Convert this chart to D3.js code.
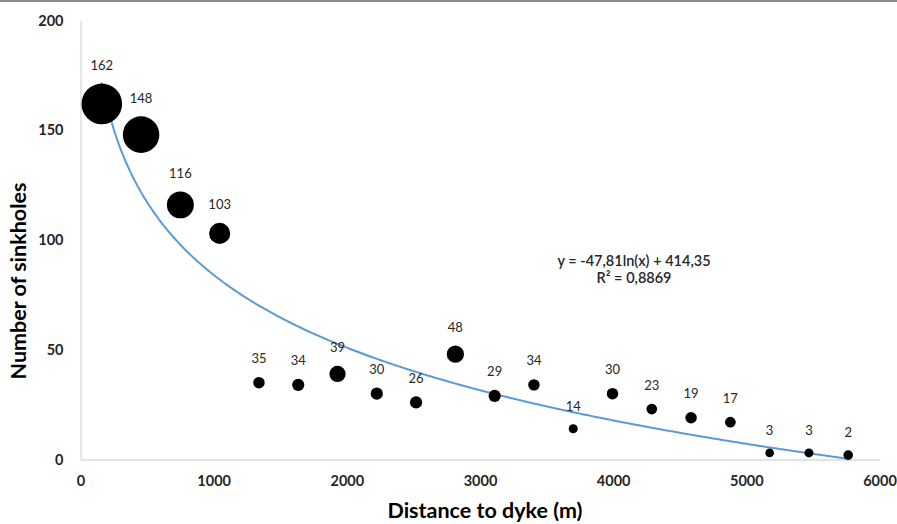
<!DOCTYPE html>
<html>
<head>
<meta charset="utf-8">
<script src="https://cdn.jsdelivr.net/npm/d3@7"></script>
<style>
  body { margin: 0; background: #fff; }
  svg { display: block; font-family: Lato, "Open Sans", sans-serif; }
</style>
</head>
<body>
<div id="bubble-chart"></div>
<script>
// Data
const distances = [160, 455, 750, 1045, 1340, 1635, 1930, 2225, 2520, 2815,
                   3110, 3405, 3700, 3995, 4290, 4585, 4880, 5175, 5470, 5765];
const sinkholes = [162, 148, 116, 103, 35, 34, 39, 30, 26, 48,
                   29, 34, 14, 30, 23, 19, 17, 3, 3, 2];
// bubble size series (relative area)
const bubbleSize = [100, 81, 44, 27, 8, 9, 16, 9, 9, 18,
                    9, 8, 5, 8, 7, 8, 7, 4.5, 5, 5.6];
const xTicks = [0, 1000, 2000, 3000, 4000, 5000, 6000];
const yTicks = [0, 50, 100, 150, 200];

// Logarithmic trendline shown on the chart
const trendA = -47.81;
const trendB = 414.35;
const trendLabel = "y = -47,81ln(x) + 414,35";
const r2Label = "R² = 0,8869";

const data = distances.map((d, i) => ({
  x: d, y: sinkholes[i], size: bubbleSize[i]
}));

const drawBubbleChart = (data) => {

  // ------ Drawing area ------ //
  const width = 897;
  const height = 524;
  const margin = {top: 20.5, right: 17.5, bottom: 64.5, left: 80.5};
  const innerWidth = width - margin.left - margin.right;
  const innerHeight = height - margin.top - margin.bottom;

  const svg = d3.select("#bubble-chart")
    .append("svg")
      .attr("width", width)
      .attr("height", height)
      .attr("viewBox", [0, 0, width, height]);

  // thin frame line along the top edge
  svg.append("line")
    .attr("x1", 0).attr("x2", width)
    .attr("y1", 1).attr("y2", 1)
    .attr("stroke", "#8c8c8c")
    .attr("stroke-width", 2);

  const innerChart = svg
    .append("g")
      .attr("transform", `translate(${margin.left}, ${margin.top})`);

  // ------ Scales and axes ------ //
  const xScale = d3.scaleLinear()
    .domain([0, 6000])
    .range([0, innerWidth]);
  const yScale = d3.scaleLinear()
    .domain([0, 200])
    .range([innerHeight, 0]);
  const rScale = d3.scaleSqrt()
    .domain([0, 100])
    .range([0, 20.3]);

  const bottomAxis = d3.axisBottom(xScale)
    .tickValues(xTicks)
    .tickFormat(d3.format("d"))
    .tickSize(0)
    .tickPadding(16);
  innerChart
    .append("g")
      .attr("class", "axis-x")
      .attr("transform", `translate(0, ${innerHeight})`)
      .call(bottomAxis);

  const leftAxis = d3.axisLeft(yScale)
    .tickValues(yTicks)
    .tickSize(0)
    .tickPadding(17);
  innerChart
    .append("g")
      .attr("class", "axis-y")
      .call(leftAxis);

  // Style for the axes
  svg.selectAll(".axis-x path, .axis-y path")
    .attr("stroke", "#d9d9d9")
    .attr("stroke-width", 1.3);
  svg.selectAll(".axis-x text, .axis-y text")
    .attr("fill", "#262626")
    .style("font-family", "Lato, sans-serif")
    .style("font-size", "14.5px")
    .style("font-weight", "700");

  // Axis titles
  svg.append("text")
    .text("Distance to dyke (m)")
    .attr("x", 485)
    .attr("y", 512)
    .attr("text-anchor", "middle")
    .attr("dominant-baseline", "middle")
    .style("font-size", "21.5px")
    .style("font-weight", "700")
    .attr("fill", "#000");
  svg.append("text")
    .text("Number of sinkholes")
    .attr("transform", "translate(20, 281) rotate(-90)")
    .attr("text-anchor", "middle")
    .attr("dominant-baseline", "middle")
    .style("font-size", "21.5px")
    .style("font-weight", "700")
    .attr("fill", "#000");

  // ------ Trendline ------ //
  const xMin = d3.min(data, d => d.x);
  const xMax = d3.max(data, d => d.x);
  const trendPoints = d3.range(xMin, xMax + 1, 10)
    .map(x => ({x: x, y: trendA * Math.log(x) + trendB}));
  const lineGenerator = d3.line()
    .x(d => xScale(d.x))
    .y(d => yScale(d.y));
  innerChart
    .append("path")
      .attr("d", lineGenerator(trendPoints))
      .attr("fill", "none")
      .attr("stroke", "#5b9bd5")
      .attr("stroke-width", 2);

  // ------ Bubbles ------ //
  innerChart
    .selectAll("circle")
    .data(data)
    .join("circle")
      .attr("cx", d => xScale(d.x))
      .attr("cy", d => yScale(d.y))
      .attr("r", d => rScale(d.size))
      .attr("fill", "#000");

  // Data labels above each bubble
  innerChart
    .selectAll(".data-label")
    .data(data)
    .join("text")
      .attr("class", "data-label")
      .text(d => d.y)
      .attr("x", d => xScale(d.x))
      .attr("y", d => yScale(d.y) - rScale(d.size) - 17)
      .attr("text-anchor", "middle")
      .attr("dominant-baseline", "middle")
      .style("font-size", "13px")
      .attr("fill", "#262626");

  // Trendline equation
  svg.append("text")
    .text(trendLabel)
    .attr("x", 634)
    .attr("y", 262)
    .attr("text-anchor", "middle")
    .attr("dominant-baseline", "middle")
    .style("font-size", "14.5px")
    .style("font-weight", "600")
    .attr("fill", "#262626");
  svg.append("text")
    .text(r2Label)
    .attr("x", 634)
    .attr("y", 279)
    .attr("text-anchor", "middle")
    .attr("dominant-baseline", "middle")
    .style("font-size", "14.5px")
    .style("font-weight", "600")
    .attr("fill", "#262626");
};

drawBubbleChart(data);
</script>
</body>
</html>
